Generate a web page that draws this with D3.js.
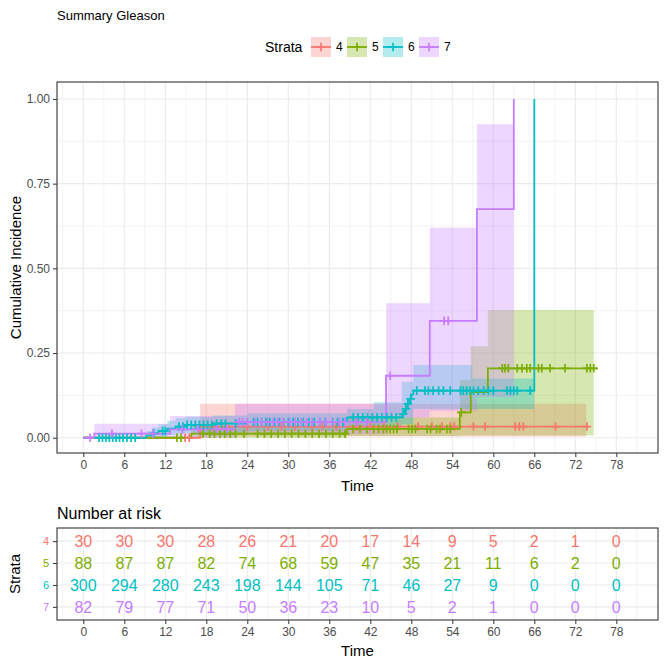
<!DOCTYPE html>
<html>
<head>
<meta charset="utf-8">
<script src="https://cdn.jsdelivr.net/npm/d3@7"></script>
<style>
  body { margin: 0; background: #fff; }
  text { font-family: "Liberation Sans", Arial, sans-serif; }
</style>
</head>
<body>
<div id="chart"></div>
<script>
// strata and colours (ggplot hue palette)
var strata = ["4", "5", "6", "7"];
var colors = ["#F8766D", "#7CAE00", "#00BFC4", "#C77CFF"];

var xTicks = [0, 6, 12, 18, 24, 30, 36, 42, 48, 54, 60, 66, 72, 78];
var yTicks = [0, 0.25, 0.5, 0.75, 1];
var yTickLabels = ["0.00", "0.25", "0.50", "0.75", "1.00"];

// cumulative incidence steps [time, value]
var curve4 = [[0, 0], [17.1, 0.033], [73.9, 0.033]];
var curve5 = [[0, 0], [15.8, 0.012], [38.6, 0.026], [55.1, 0.075], [56.7, 0.135], [59.2, 0.205], [75.2, 0.205]];
var curve6 = [[0, 0], [9.2, 0.007], [10, 0.013], [11, 0.02], [12.3, 0.027], [13.5, 0.033], [15, 0.038], [19, 0.042],
  [24, 0.046], [38.6, 0.06], [46.6, 0.07], [47, 0.085], [47.3, 0.1], [47.7, 0.115], [48, 0.128], [48.3, 0.139], [66, 1.0]];
var curve7 = [[0, 0], [1.6, 0.012], [12.7, 0.025], [22.2, 0.046], [44.3, 0.183], [50.7, 0.345], [57.6, 0.675], [63.0, 1.0]];

// confidence bands [time, lower, upper]
var band4 = [[0, 0, 0], [17.1, 0.004, 0.10], [73.6, 0.004, 0.10]];
var band5 = [[0, 0, 0], [15.8, 0, 0.035], [38.6, 0.005, 0.06], [55.1, 0.007, 0.17], [56.7, 0.007, 0.27], [59.2, 0.007, 0.377], [74.7, 0.007, 0.377]];
var band6 = [[0, 0, 0], [9.2, 0, 0.02], [10, 0, 0.03], [11, 0.003, 0.04], [12.3, 0.008, 0.05], [13.5, 0.012, 0.058],
  [15, 0.015, 0.062], [19, 0.018, 0.066], [24, 0.02, 0.072], [38.6, 0.03, 0.085], [42.5, 0.033, 0.105],
  [46.6, 0.04, 0.165], [48.3, 0.085, 0.215], [56.9, 0.085, 0.175], [66, 0.085, 0.175]];
var band7 = [[0, 0, 0], [1.6, 0, 0.041], [12.7, 0, 0.064], [22.2, 0.01, 0.10], [44.3, 0.06, 0.397],
  [50.7, 0.08, 0.62], [57.6, 0.12, 0.925], [63.0, 0.12, 0.925]];

// censoring times
var censor4 = [14.9, 15.5, 19, 21, 24, 27, 29, 31, 33.5, 35, 37, 40, 42, 44, 46, 49, 51, 52.5,
  53.7, 54.3, 57.1, 58.8, 63.2, 63.8, 64.4, 69.1, 73.7];
var censor5 = [13.7, 14.3, 17.5, 18.5, 19.2, 20, 20.7, 21.5, 22.3, 23.5, 25.5, 26.5, 27.5, 28.5, 29.5,
  30.5, 31.5, 32.5, 33.5, 34.5, 35.5, 36.5, 37.5, 38.3, 39.5, 40.5, 41.5, 42.5, 43.2, 43.9, 44.4, 44.9,
  45.4, 45.9, 47.6, 48.1, 48.6, 50.3, 50.8, 51.7, 52.2, 53.2, 53.7, 55.3, 61.3, 61.7, 62.2, 63.5, 64.2,
  64.9, 65.4, 66.6, 67.1, 68.3, 70.5, 73.7, 74.2, 74.7];
var censor6 = [2.3, 2.8, 3.3, 3.8, 4.3, 4.8, 5.3, 5.8, 6.4, 7.0, 7.6, 10.3, 11.6, 12.0, 14.0, 14.6, 15.2,
  15.8, 16.4, 17.0, 17.6, 18.2, 18.8, 19.5, 20.2, 20.8, 22.3, 24.9, 25.5, 26.1, 26.7, 27.3, 28.0, 28.7,
  29.3, 30.0, 30.7, 31.4, 32.2, 33.0, 33.8, 34.6, 35.4, 36.5, 37.2, 38.0, 39.5, 40.2, 40.9, 41.6, 42.3,
  43.0, 43.7, 44.4, 45.1, 45.8, 46.8, 47.2, 47.5, 47.9, 48.8, 50.0, 50.5, 51.2, 52.0, 52.7, 53.7, 55.2,
  55.6, 56.1, 56.6, 57.1, 57.8, 58.6, 59.3, 60.0, 62.0, 62.5, 63.0, 63.5, 65.4];
var censor7 = [1.0, 4.2, 8.5, 10.2, 14.5, 16.8, 19.5, 21, 22.8, 23.3, 24.0, 25.2, 26.1, 27.0, 27.8, 28.5,
  29.3, 30.2, 31.0, 31.9, 32.7, 33.5, 34.6, 35.5, 36.4, 37.5, 38.3, 40, 41.5, 44.9, 52.8, 53.4];

// number at risk at each x tick
var risk4 = [30, 30, 30, 28, 26, 21, 20, 17, 14, 9, 5, 2, 1, 0];
var risk5 = [88, 87, 87, 82, 74, 68, 59, 47, 35, 21, 11, 6, 2, 0];
var risk6 = [300, 294, 280, 243, 198, 144, 105, 71, 46, 27, 9, 0, 0, 0];
var risk7 = [82, 79, 77, 71, 50, 36, 23, 10, 5, 2, 1, 0, 0, 0];

var curves = [curve4, curve5, curve6, curve7];
var bands = [band4, band5, band6, band7];
var censors = [censor4, censor5, censor6, censor7];
var risks = [risk4, risk5, risk6, risk7];

var width = 665, height = 664;
var main = {left: 57, right: 658, top: 82, bottom: 453};
var tab = {top: 528, bottom: 620};

var svg = d3.select("#chart").append("svg")
  .attr("width", width).attr("height", height);

var x = d3.scaleLinear().domain([-3.85, 84.1]).range([main.left, main.right]);
var y = d3.scaleLinear().domain([-0.045, 1.05]).range([main.bottom, main.top]);
var color = d3.scaleOrdinal().domain(strata).range(colors);

// minor breaks halfway between the major ones
function minors(t) {
  var step = t[1] - t[0], out = [t[0] - step / 2];
  t.forEach(function(v) { out.push(v + step / 2); });
  return out;
}

function grid(g, yScale, yMajor, yMinor, top, bottom) {
  g.selectAll(".vmin").data(minors(xTicks).filter(function(d) { return x(d) > main.left && x(d) < main.right; }))
    .enter().append("line").attr("x1", x).attr("x2", x).attr("y1", top).attr("y2", bottom)
    .attr("stroke", "#EBEBEB").attr("stroke-width", 0.6);
  g.selectAll(".vmaj").data(xTicks).enter().append("line")
    .attr("x1", x).attr("x2", x).attr("y1", top).attr("y2", bottom)
    .attr("stroke", "#EBEBEB").attr("stroke-width", 1.1);
  g.selectAll(".hmin").data(yMinor).enter().append("line")
    .attr("x1", main.left).attr("x2", main.right).attr("y1", yScale).attr("y2", yScale)
    .attr("stroke", "#EBEBEB").attr("stroke-width", 0.6);
  g.selectAll(".hmaj").data(yMajor).enter().append("line")
    .attr("x1", main.left).attr("x2", main.right).attr("y1", yScale).attr("y2", yScale)
    .attr("stroke", "#EBEBEB").attr("stroke-width", 1.1);
}

// ---- main panel ----
var gMain = svg.append("g");
var yMinor = minors(yTicks).filter(function(d) { return d > -0.045 && d < 1.05; });
grid(gMain, y, yTicks, yMinor, main.top, main.bottom);

var area = d3.area().curve(d3.curveStepAfter)
  .x(function(d) { return x(d[0]); })
  .y0(function(d) { return y(d[1]); })
  .y1(function(d) { return y(d[2]); });

gMain.selectAll(".band").data(bands).enter().append("path")
  .attr("d", area)
  .attr("fill", function(d, i) { return colors[i]; })
  .attr("fill-opacity", 0.3);

var line = d3.line().curve(d3.curveStepAfter)
  .x(function(d) { return x(d[0]); })
  .y(function(d) { return y(d[1]); });

gMain.selectAll(".curve").data(curves).enter().append("path")
  .attr("d", line)
  .attr("fill", "none")
  .attr("stroke", function(d, i) { return colors[i]; })
  .attr("stroke-width", 1.8);

function valueAt(c, t) {
  var i = d3.bisector(function(d) { return d[0]; }).right(c, t) - 1;
  return c[Math.max(i, 0)][1];
}

var plus = "M-4.3,0H4.3M0,-4.3V4.3";
censors.forEach(function(times, i) {
  gMain.selectAll(".cens" + i).data(times).enter().append("path")
    .attr("d", plus)
    .attr("transform", function(t) { return "translate(" + x(t) + "," + y(valueAt(curves[i], t)) + ")"; })
    .attr("stroke", colors[i]).attr("stroke-width", 1.7).attr("fill", "none");
});

gMain.append("rect")
  .attr("x", main.left).attr("y", main.top)
  .attr("width", main.right - main.left).attr("height", main.bottom - main.top)
  .attr("fill", "none").attr("stroke", "#333").attr("stroke-width", 1.1);

// axes
var xAxis = gMain.append("g").attr("transform", "translate(0," + main.bottom + ")")
  .call(d3.axisBottom(x).tickValues(xTicks).tickSize(4).tickPadding(3));
var yAxis = gMain.append("g").attr("transform", "translate(" + main.left + ",0)")
  .call(d3.axisLeft(y).tickValues(yTicks).tickFormat(function(d, i) { return yTickLabels[i]; }).tickSize(4).tickPadding(3));
[xAxis, yAxis].forEach(function(a) {
  a.select(".domain").remove();
  a.selectAll(".tick line").attr("stroke", "#333");
  a.selectAll(".tick text").attr("fill", "#4D4D4D").style("font-size", "12px")
    .style("font-family", "'Liberation Sans', Arial, sans-serif");
});

gMain.append("text")
  .attr("x", (main.left + main.right) / 2).attr("y", 491)
  .attr("text-anchor", "middle").style("font-size", "15px").text("Time");
gMain.append("text")
  .attr("transform", "translate(21," + (main.top + main.bottom) / 2 + ") rotate(-90)")
  .attr("text-anchor", "middle").style("font-size", "15px").text("Cumulative Incidence");

// title
svg.append("text").attr("x", 57).attr("y", 20).style("font-size", "13px").text("Summary Gleason");

// legend
var legend = svg.append("g");
legend.append("text").attr("x", 265).attr("y", 52).style("font-size", "14px").text("Strata");
var key = legend.selectAll(".key").data(strata).enter().append("g")
  .attr("transform", function(d, i) { return "translate(" + (311 + i * 36) + ",37)"; });
key.append("rect").attr("width", 20).attr("height", 20)
  .attr("fill", function(d) { return color(d); }).attr("fill-opacity", 0.3);
key.append("line").attr("x1", 0).attr("x2", 20).attr("y1", 10).attr("y2", 10)
  .attr("stroke", function(d) { return color(d); }).attr("stroke-width", 1.8);
key.append("path").attr("d", plus).attr("transform", "translate(10,10)")
  .attr("stroke", function(d) { return color(d); }).attr("stroke-width", 1.7);
key.append("text").attr("x", 25).attr("y", 14.2).style("font-size", "12px").text(function(d) { return d; });

// ---- risk table ----
var gTab = svg.append("g");
var yr = d3.scalePoint().domain(strata).range([tab.top, tab.bottom]).padding(0.6);
grid(gTab, yr, strata, [], tab.top, tab.bottom);

gTab.append("text").attr("x", 57).attr("y", 519).style("font-size", "16px").text("Number at risk");

risks.forEach(function(r, i) {
  gTab.selectAll(".risk" + i).data(r).enter().append("text")
    .attr("x", function(d, j) { return x(xTicks[j]); })
    .attr("y", yr(strata[i]))
    .attr("dy", "0.36em")
    .attr("text-anchor", "middle")
    .attr("fill", colors[i])
    .style("font-size", "16px")
    .text(function(d) { return d; });
});

gTab.append("rect")
  .attr("x", main.left).attr("y", tab.top)
  .attr("width", main.right - main.left).attr("height", tab.bottom - tab.top)
  .attr("fill", "none").attr("stroke", "#333").attr("stroke-width", 1.1);

var xAxisT = gTab.append("g").attr("transform", "translate(0," + tab.bottom + ")")
  .call(d3.axisBottom(x).tickValues(xTicks).tickSize(4).tickPadding(3));
var yAxisT = gTab.append("g").attr("transform", "translate(" + main.left + ",0)")
  .call(d3.axisLeft(yr).tickSize(4).tickPadding(4));
[xAxisT, yAxisT].forEach(function(a) {
  a.select(".domain").remove();
  a.selectAll(".tick line").attr("stroke", "#333");
  a.selectAll(".tick text").attr("fill", "#4D4D4D").style("font-size", "12px")
    .style("font-family", "'Liberation Sans', Arial, sans-serif");
});
yAxisT.selectAll(".tick text").attr("fill", function(d) { return color(d); }).style("font-size", "11px");

gTab.append("text")
  .attr("x", (main.left + main.right) / 2).attr("y", 656)
  .attr("text-anchor", "middle").style("font-size", "15px").text("Time");
gTab.append("text")
  .attr("transform", "translate(20," + (tab.top + tab.bottom) / 2 + ") rotate(-90)")
  .attr("text-anchor", "middle").style("font-size", "15px").text("Strata");
</script>
</body>
</html>
